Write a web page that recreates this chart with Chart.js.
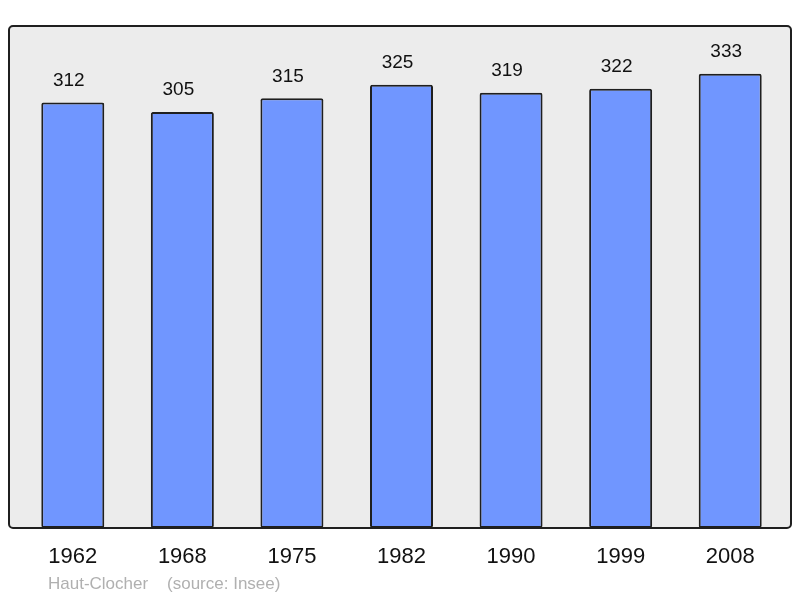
<!DOCTYPE html>
<html>
<head>
<meta charset="utf-8">
<script src="https://cdn.jsdelivr.net/npm/chart.js@4"></script>
<style>
  html, body { margin: 0; padding: 0; background: #fff; }
  #wrap { position: relative; width: 800px; height: 598px; }
  #note {
    position: absolute; left: 48px; top: 574px;
    font: 17px "Liberation Sans", Arial, sans-serif; color: #b0b0b0;
    white-space: pre;
  }
</style>
</head>
<body>
<div id="wrap">
  <canvas id="chart" width="800" height="598"></canvas>
  <div id="note">Haut-Clocher    (source: Insee)</div>
</div>
<script>
// Population Haut-Clocher (Insee)
const years = ["1962", "1968", "1975", "1982", "1990", "1999", "2008"];
const population = [312, 305, 315, 325, 319, 322, 333];

const BAR_FILL = "#7096ff";
const DARK = "#1f1f1f";

// fond gris + cadre arrondi autour de la zone
const framePlugin = {
  id: "frame",
  beforeDatasetsDraw(chart) {
    const ctx = chart.ctx;
    ctx.save();
    ctx.beginPath();
    ctx.roundRect(9, 26, 782, 502, 4);
    ctx.fillStyle = "#ececec";
    ctx.fill();
    ctx.restore();
  },
  afterDatasetsDraw(chart) {
    const ctx = chart.ctx;
    ctx.save();
    ctx.beginPath();
    ctx.roundRect(9, 26, 782, 502, 4);
    ctx.lineWidth = 2;
    ctx.strokeStyle = DARK;
    ctx.stroke();

    // valeurs au-dessus des barres
    const meta = chart.getDatasetMeta(0);
    ctx.fillStyle = "#111";
    ctx.font = '19px "Liberation Sans", Arial, sans-serif';
    ctx.textAlign = "center";
    ctx.textBaseline = "middle";
    meta.data.forEach((bar, i) => {
      ctx.fillText(String(population[i]), bar.x - 4, bar.y - 22);
    });
    ctx.restore();
  }
};

new Chart(document.getElementById("chart"), {
  type: "bar",
  data: {
    labels: years,
    datasets: [{
      data: population,
      backgroundColor: BAR_FILL,
      borderColor: DARK,
      borderWidth: 2,
      borderRadius: 2,
      borderSkipped: false,
      barPercentage: 0.575,
      categoryPercentage: 1.0
    }]
  },
  options: {
    responsive: false,
    animation: false,
    layout: { padding: { left: 18, right: 15, top: 26, bottom: 0 } },
    plugins: { legend: { display: false }, tooltip: { enabled: false } },
    scales: {
      y: { display: false, min: 0, max: 368 },
      x: {
        grid: { display: false, drawTicks: false },
        border: { display: false },
        ticks: {
          color: "#111",
          padding: 16,
          font: { family: '"Liberation Sans", Arial, sans-serif', size: 22 }
        },
        afterFit: (s) => { s.height = 70; }
      }
    }
  },
  plugins: [framePlugin]
});
</script>
</body>
</html>
